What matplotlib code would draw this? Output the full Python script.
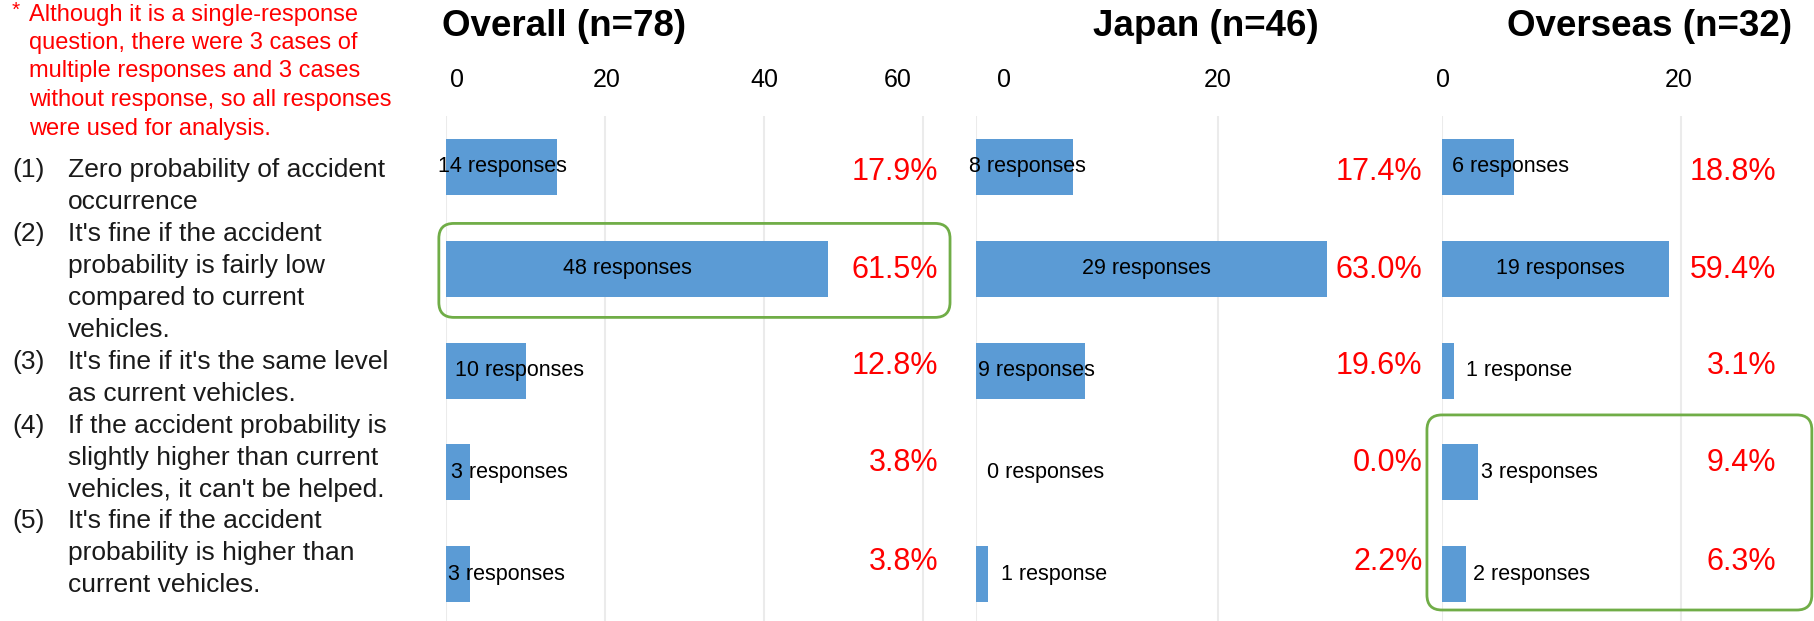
import matplotlib
matplotlib.use("Agg")
import matplotlib.pyplot as plt
from matplotlib.patches import FancyBboxPatch
from matplotlib.transforms import IdentityTransform, ScaledTranslation

plt.rcParams["font.family"] = ["Liberation Sans", "DejaVu Sans"]

# data
panels = ["Overall (n=78)", "Japan (n=46)", "Overseas (n=32)"]
overall_counts = [14, 48, 10, 3, 3]
japan_counts = [8, 29, 9, 0, 1]
overseas_counts = [6, 19, 1, 3, 2]
overall_pct = ["17.9%", "61.5%", "12.8%", "3.8%", "3.8%"]
japan_pct = ["17.4%", "63.0%", "19.6%", "0.0%", "2.2%"]
overseas_pct = ["18.8%", "59.4%", "3.1%", "9.4%", "6.3%"]
overall_ticks = [0, 20, 40, 60]
japan_ticks = [0, 20]
overseas_ticks = [0, 20]

note_lines = [
    "Although it is a single-response",
    "question, there were 3 cases of",
    "multiple responses and 3 cases",
    "without response, so all responses",
    "were used for analysis.",
]
choices = [
    ("(1)", ["Zero probability of accident", "occurrence"]),
    ("(2)", ["It's fine if the accident", "probability is fairly low",
             "compared to current", "vehicles."]),
    ("(3)", ["It's fine if it's the same level", "as current vehicles."]),
    ("(4)", ["If the accident probability is", "slightly higher than current",
             "vehicles, it can't be helped."]),
    ("(5)", ["It's fine if the accident", "probability is higher than",
             "current vehicles."]),
]


def resp_label(n):
    return f"{n} response" if n == 1 else f"{n} responses"


W, H = 1814, 621
fig = plt.figure(figsize=(W / 100, H / 100), dpi=100)

BLUE = "#5B9BD5"
GREEN = "#70AD47"
RED = "#FF0000"

# layout: left edge px, px per unit, x max, label x (data), pct x (data)
layout = [
    (446, 7.95, 63.0, [-1.0, 14.7, 1.1, 0.6, 0.25], 61.9),
    (976, 12.1, 37.5, [-0.6, 8.8, 0.2, 0.9, 2.1], 36.9),
    (1442, 11.95, 30.0, [0.8, 4.5, 2.0, 3.3, 2.6], 28.0),
]
# tick label nudges in px (the original labels are not centred on the grid)
tick_nudge = [[11, 2, 0, -25], [28, 0], [1, -2]]
counts = [overall_counts, japan_counts, overseas_counts]
pcts = [overall_pct, japan_pct, overseas_pct]
ticks = [overall_ticks, japan_ticks, overseas_ticks]
pct_shift = [0.05, 1.01, 1.96, 2.91, 3.88]

top_px = 116
axes = []
for k in range(3):
    left, ppu, xmax, lab_x, pct_x = layout[k]
    ax = fig.add_axes([left / W, 0, xmax * ppu / W, (H - top_px) / H])
    ax.barh(range(5), counts[k], height=0.55, color=BLUE, zorder=2)
    ax.set_xlim(0, xmax)
    ax.set_ylim(4.46, -0.5)
    ax.set_xticks(ticks[k])
    ax.xaxis.tick_top()
    ax.tick_params(axis="x", length=0, pad=17, labelsize=18)
    for t, dx in zip(ax.xaxis.get_major_ticks(), tick_nudge[k]):
        t.label2.set_transform(t.label2.get_transform()
                               + ScaledTranslation(dx / 100, 0, fig.dpi_scale_trans))
    ax.set_yticks([])
    for s in ax.spines.values():
        s.set_visible(False)
    ax.grid(axis="x", color="#EBEBEB", linewidth=1.5, zorder=0)
    for i, n in enumerate(counts[k]):
        ax.text(lab_x[i], i, resp_label(n), ha="left", va="center",
                fontsize=15.5, color="black", zorder=3, clip_on=False)
        ax.text(pct_x, pct_shift[i], pcts[k][i], ha="right", va="center",
                fontsize=22, color=RED, zorder=3)
    axes.append(ax)

# titles
ty = 1 - 26 / H
fig.text(442 / W, ty, panels[0], ha="left", va="center",
         fontsize=26.5, fontweight="bold")
fig.text(1206 / W, ty, panels[1], ha="center", va="center",
         fontsize=26.5, fontweight="bold")
fig.text(1650 / W, ty, panels[2], ha="center", va="center",
         fontsize=26.5, fontweight="bold")


# green highlight boxes, placed from data coords
def highlight(ax, x0, x1, y0, y1):
    (px0, py0) = ax.transData.transform((x0, y1))
    (px1, py1) = ax.transData.transform((x1, y0))
    box = FancyBboxPatch((px0, py0), px1 - px0, py1 - py0,
                         boxstyle="round,pad=0,rounding_size=15",
                         transform=IdentityTransform(), fill=False,
                         edgecolor=GREEN, linewidth=2, zorder=5)
    fig.add_artist(box)


highlight(axes[0], -0.9, 63.4, 0.555, 1.478)
highlight(axes[2], -1.26, 30.95, 2.436, 4.352)

# red note
fig.text(12 / W, 1 - 10 / H, "*", ha="left", va="center", fontsize=15, color=RED)
for j, line in enumerate(note_lines):
    fig.text(29 / W, 1 - (14.5 + 28.5 * j) / H, line, ha="left", va="center",
             fontsize=17, color=RED)

# choice list
row = 0
for num, lines in choices:
    fig.text(12 / W, 1 - (170 + 31.95 * row) / H, num, ha="left", va="center",
             fontsize=19, color="#1a1a1a")
    for line in lines:
        fig.text(68 / W, 1 - (170 + 31.95 * row) / H, line, ha="left",
                 va="center", fontsize=19, color="#1a1a1a")
        row += 1

fig.savefig("out.png", dpi=100)
